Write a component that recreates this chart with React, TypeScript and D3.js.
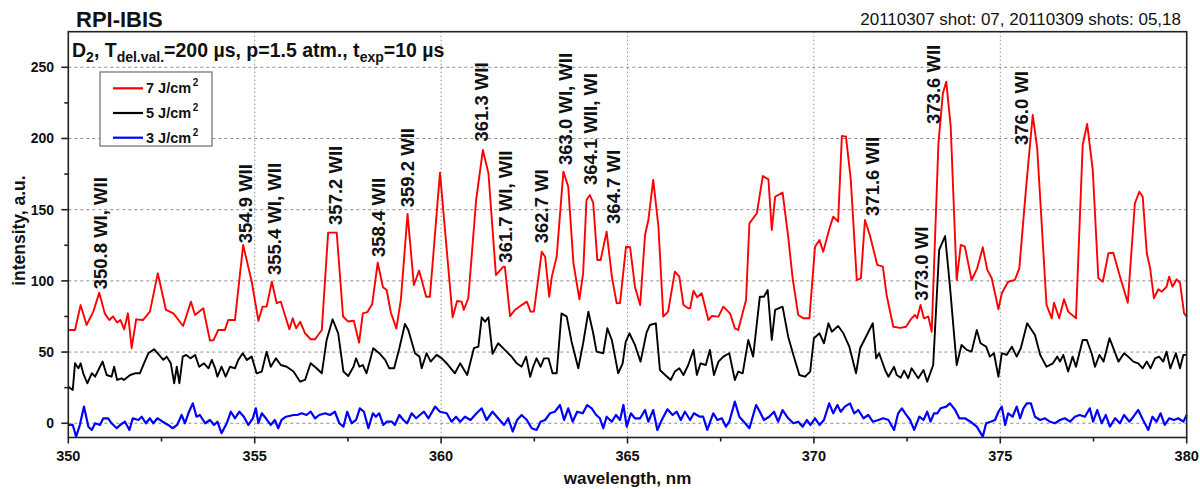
import React from "react";
import * as d3 from "d3";

// wavelength (nm), intensity (a.u.)
const series7: [number, number][] = [
  [350.0, 65.5], [350.18, 65.5], [350.33, 83], [350.49, 69], [350.67, 78.4], [350.83, 91.7], [350.98, 77], [351.1, 72.5],
  [351.2, 75], [351.31, 70.7], [351.4, 72.5], [351.5, 66], [351.6, 77.2], [351.7, 52.7], [351.82, 73], [352.0, 72.5],
  [352.19, 78.4], [352.4, 105.3], [352.62, 79.6], [352.82, 77.2], [353.08, 68.3], [353.29, 85.4], [353.4, 76], [353.62, 80.8],
  [353.8, 58], [353.9, 58.5], [354.02, 65.5], [354.2, 65.5], [354.29, 72.5], [354.47, 72.5], [354.69, 125.2], [354.92, 99.4],
  [355.1, 72], [355.21, 81.9], [355.32, 81.9], [355.46, 99.4], [355.59, 84.3], [355.7, 85.4], [355.93, 66], [356.02, 73.7],
  [356.11, 66.7], [356.22, 71.3], [356.35, 63.2], [356.5, 59], [356.62, 59], [356.8, 65.5], [356.97, 133.9], [357.2, 133.9],
  [357.37, 75], [357.5, 71.5], [357.66, 72], [357.8, 56.6], [357.9, 77.2], [358.02, 78], [358.15, 83.5], [358.3, 112.8],
  [358.44, 95.5], [358.54, 93.6], [358.65, 78], [358.8, 66.5], [358.92, 86.6], [359.1, 147], [359.27, 97.1], [359.41, 107.2],
  [359.6, 88.9], [359.7, 88.9], [359.97, 176], [360.31, 74.4], [360.43, 85.9], [360.55, 85.4], [360.61, 79.6], [360.73, 87.8],
  [360.94, 156.8], [361.12, 191.9], [361.27, 175.6], [361.47, 104.1], [361.67, 110], [361.71, 110], [361.85, 75.3], [361.98, 79.6],
  [362.16, 83], [362.3, 85.4], [362.4, 78.4], [362.49, 78.4], [362.7, 120.5], [362.79, 117], [362.9, 88.9], [362.97, 103],
  [363.1, 117], [363.28, 176.7], [363.41, 166.2], [363.55, 112.4], [363.71, 87.1], [363.81, 105.3], [363.9, 156.8], [363.99, 160.3],
  [364.08, 154.9], [364.19, 114.7], [364.28, 114.7], [364.44, 134.6], [364.58, 103], [364.71, 84.3], [364.8, 84.5], [364.96, 124],
  [365.07, 123.6], [365.2, 95.9], [365.34, 83], [365.47, 132.2], [365.56, 142.8], [365.69, 170.9], [365.83, 138], [365.96, 74.9],
  [366.09, 78.4], [366.27, 106.5], [366.39, 103], [366.5, 83.1], [366.63, 80.8], [366.68, 80.8], [366.77, 93.1], [366.87, 88.5],
  [366.99, 91.3], [367.17, 72.5], [367.26, 75.3], [367.44, 74.9], [367.57, 81.9], [367.75, 77.2], [367.88, 66.7], [367.97, 65.5],
  [368.18, 86.6], [368.27, 140.4], [368.47, 147.5], [368.63, 173.7], [368.78, 171.3], [368.87, 135.7], [368.96, 159.1], [369.16, 162],
  [369.31, 131], [369.43, 101.8], [369.58, 76], [369.72, 73.7], [369.88, 73.7], [370.03, 124], [370.15, 128.7], [370.25, 120.5],
  [370.43, 138], [370.52, 145.1], [370.65, 141.6], [370.75, 201.8], [370.86, 201.3], [370.99, 170.9], [371.15, 100.6], [371.26, 101.8],
  [371.37, 142.8], [371.5, 132.2], [371.7, 111.2], [371.85, 110], [371.95, 90.1], [372.13, 67.8], [372.31, 67], [372.47, 67.8],
  [372.62, 73.7], [372.71, 76], [372.77, 73.7], [372.86, 83.1], [372.95, 73.7], [373.07, 74.9], [373.16, 64.3], [373.34, 196.6],
  [373.46, 231.7], [373.55, 239.9], [373.67, 208.3], [373.83, 100.6], [373.94, 125.2], [374.05, 124], [374.23, 100.6], [374.38, 108.8],
  [374.53, 123.6], [374.65, 107.7], [374.77, 101.8], [374.95, 80], [375.04, 91.3], [375.21, 99.4], [375.39, 100.6], [375.51, 108.8],
  [375.69, 165], [375.87, 216.5], [375.99, 193.1], [376.24, 83.1], [376.38, 73.7], [376.44, 84.7], [376.58, 73.7], [376.71, 87.1],
  [376.82, 78.4], [377.03, 73.7], [377.21, 195.4], [377.33, 210.2], [377.48, 177.9], [377.63, 101.8], [377.75, 99.4], [377.9, 119.4],
  [378.03, 119.8], [378.21, 103], [378.42, 84.7], [378.61, 154.5], [378.73, 162.6], [378.82, 159.1], [378.93, 119.4], [379.02, 108.8],
  [379.12, 87.8], [379.24, 94.1], [379.33, 92.4], [379.46, 95.9], [379.53, 103], [379.62, 95.9], [379.73, 101.1], [379.82, 98.7],
  [379.93, 77.2], [380.0, 74.9],
];

const series5: [number, number][] = [
  [350.0, 25.7], [350.12, 23.4], [350.18, 42.1], [350.27, 38.6], [350.33, 42.1], [350.4, 35.1], [350.51, 28.1], [350.63, 35.1],
  [350.72, 32.7], [350.85, 39.7], [350.92, 43.3], [351.03, 33.9], [351.16, 32.7], [351.23, 39.7], [351.31, 30.4], [351.43, 31.6],
  [351.49, 30.4], [351.66, 33.9], [351.79, 35.1], [351.92, 35.1], [352.03, 42.1], [352.15, 49.2], [352.3, 52], [352.41, 48.7],
  [352.55, 44.5], [352.64, 46.8], [352.75, 42.1], [352.84, 28.1], [352.91, 39.7], [352.98, 28.1], [353.07, 46.8], [353.16, 48],
  [353.28, 45.6], [353.4, 48], [353.51, 39.7], [353.64, 42.1], [353.76, 38.6], [353.85, 44.5], [353.94, 38.6], [354.0, 32.7],
  [354.11, 39.7], [354.22, 32.7], [354.34, 39.7], [354.47, 38.6], [354.56, 44.5], [354.68, 49.2], [354.79, 44.5], [354.92, 46.8],
  [355.05, 35.1], [355.19, 36.3], [355.32, 50.3], [355.43, 39.7], [355.57, 45.6], [355.7, 40.9], [355.86, 39.7], [356.04, 36.3],
  [356.22, 29.2], [356.35, 30.4], [356.5, 42.1], [356.66, 38.6], [356.8, 35.1], [356.93, 58.5], [357.09, 73], [357.24, 63.2],
  [357.38, 36.3], [357.51, 33.2], [357.65, 39.7], [357.72, 45.6], [357.81, 39.7], [357.9, 40.9], [358.0, 35.1], [358.18, 52.7],
  [358.34, 49.2], [358.5, 44.5], [358.61, 38.6], [358.74, 38.6], [358.88, 52.7], [359.03, 69.7], [359.12, 65.5], [359.3, 49.2],
  [359.42, 46.8], [359.48, 38.6], [359.61, 49.2], [359.72, 43.3], [359.88, 48], [360.02, 45.6], [360.19, 40.9], [360.37, 35.1],
  [360.51, 42.1], [360.7, 33.9], [360.88, 52.7], [361.0, 53.8], [361.09, 74.4], [361.18, 71.3], [361.27, 74.4], [361.38, 48.7],
  [361.53, 56.2], [361.71, 51.5], [361.89, 46.8], [362.03, 42.1], [362.16, 39.7], [362.28, 46.8], [362.39, 32.7], [362.47, 39.7],
  [362.56, 45.6], [362.67, 39.7], [362.76, 45.6], [362.88, 45.6], [362.99, 35.1], [363.1, 35.1], [363.23, 77.2], [363.37, 74.9],
  [363.5, 57.3], [363.68, 38.6], [363.81, 56.2], [363.95, 78.4], [364.08, 63.2], [364.17, 50.3], [364.35, 49.2], [364.46, 66.7],
  [364.58, 58.5], [364.75, 35.1], [364.87, 42.1], [364.95, 57], [365.05, 63.2], [365.2, 55], [365.35, 43.3], [365.51, 63.6],
  [365.6, 69], [365.76, 70.2], [365.87, 37.4], [366.01, 33.9], [366.16, 30.4], [366.27, 36.3], [366.39, 38.6], [366.5, 33.9],
  [366.63, 40.9], [366.77, 51.5], [366.86, 33.9], [366.96, 42.1], [367.1, 40.9], [367.21, 51.5], [367.32, 33.9], [367.44, 43.3],
  [367.57, 46.8], [367.73, 49.2], [367.88, 30.4], [367.97, 36.3], [368.09, 35.1], [368.24, 58.5], [368.37, 46.8], [368.55, 88.9],
  [368.66, 88.9], [368.76, 93.6], [368.87, 58.5], [368.96, 79.6], [369.16, 81.9], [369.31, 60.8], [369.45, 48], [369.61, 33.9],
  [369.76, 32.7], [369.9, 36.3], [370.0, 59.7], [370.15, 63.2], [370.27, 56.2], [370.39, 70.2], [370.48, 64.3], [370.65, 68.3],
  [370.79, 63.2], [370.95, 53.8], [371.13, 35.1], [371.24, 52.7], [371.42, 62], [371.58, 70.2], [371.67, 45.6], [371.75, 49.2],
  [371.91, 37.4], [372.0, 32.7], [372.15, 39.7], [372.22, 33.9], [372.33, 32], [372.42, 37], [372.53, 31.6], [372.62, 38.6],
  [372.71, 35.1], [372.8, 31.6], [372.94, 37.4], [373.04, 29.2], [373.2, 40.9], [373.36, 121.7], [373.52, 131.5], [373.65, 95.9],
  [373.83, 40.9], [373.96, 55], [374.1, 51.5], [374.23, 50.3], [374.37, 65.5], [374.47, 56.2], [374.62, 53.8], [374.72, 46.8],
  [374.83, 49.2], [374.95, 32.7], [375.04, 49.2], [375.17, 48], [375.31, 53.8], [375.44, 46.8], [375.55, 52.7], [375.72, 70.2],
  [375.93, 62], [376.07, 48], [376.24, 39.7], [376.41, 42.1], [376.53, 46.8], [376.6, 43.3], [376.69, 48], [376.82, 36.3],
  [376.94, 46.8], [377.03, 39.7], [377.21, 58.5], [377.32, 58.5], [377.45, 49.2], [377.54, 39.7], [377.66, 48], [377.77, 43.3],
  [377.93, 59.7], [378.05, 51.5], [378.17, 43.3], [378.32, 49.2], [378.43, 46.8], [378.57, 43.3], [378.7, 42.1], [378.82, 38.6],
  [378.93, 43.3], [379.03, 38.6], [379.15, 45.6], [379.26, 46.8], [379.37, 43.3], [379.46, 50.3], [379.56, 38.6], [379.71, 49.2],
  [379.82, 38.6], [379.91, 48], [380.0, 48],
];

const series3: [number, number][] = [
  [350.0, -1.2], [350.12, -1.2], [350.21, -9.4], [350.31, -1.2], [350.42, 11.7], [350.54, -2.4], [350.63, -4.7], [350.72, 0],
  [350.85, -1.2], [350.94, 3.5], [351.07, 3.5], [351.16, 0], [351.3, -3.5], [351.39, -1.2], [351.52, 1.1], [351.64, -4.7],
  [351.73, 3.5], [351.88, 2.3], [351.97, 4.6], [352.08, 0], [352.19, 3.5], [352.28, 0], [352.39, 3.5], [352.53, 1.1],
  [352.68, -1.2], [352.8, -3.5], [352.92, -1.2], [353.04, 5.8], [353.13, 0], [353.22, 7], [353.34, 14], [353.44, 4.6],
  [353.53, 5.8], [353.67, 0], [353.8, 2.3], [353.91, -1.2], [354.0, 1.1], [354.11, -7], [354.25, 0], [354.36, 8.1],
  [354.47, 3.5], [354.59, 8.1], [354.71, 4.6], [354.83, -1.2], [354.95, 3.5], [355.03, 10.5], [355.1, 0], [355.19, 7],
  [355.3, 3.5], [355.43, -1.2], [355.54, 2.3], [355.63, -3.5], [355.72, 2.3], [355.84, 4.6], [356.04, 5.8], [356.14, 5.8],
  [356.26, 7], [356.39, 5.8], [356.5, 8.1], [356.62, 3.5], [356.73, 5.8], [356.89, 7], [357.02, 5.8], [357.15, 8.1],
  [357.27, 0], [357.38, -2.4], [357.48, 8.1], [357.6, 0], [357.72, 2.3], [357.82, 10.5], [357.93, 8.1], [358.05, -3.5],
  [358.17, 7], [358.25, 4.6], [358.34, 7], [358.45, -1.2], [358.54, 1.1], [358.68, 1.1], [358.76, -1.2], [358.88, 5.8],
  [358.99, 2.3], [359.09, 0], [359.21, 7], [359.33, 3.5], [359.43, 5.8], [359.54, 8.1], [359.66, 3.5], [359.84, 11.7],
  [359.97, 8.1], [360.15, 7], [360.28, 1.1], [360.4, 4.6], [360.51, 1.1], [360.64, 4.6], [360.79, 2.3], [360.95, 7],
  [361.09, 10.5], [361.22, 2.3], [361.38, 8.1], [361.53, 3.5], [361.69, -1.2], [361.8, 3.5], [361.92, -5.8], [362.04, 2.3],
  [362.16, 5.8], [362.3, 2.3], [362.43, -3.5], [362.56, -4.7], [362.67, 1.1], [362.79, 2.3], [362.92, 7], [363.05, 8.1],
  [363.19, 12.8], [363.3, 2.3], [363.41, 10.5], [363.53, 1.1], [363.65, 8.1], [363.8, 7], [363.92, 12.8], [364.04, 10.5],
  [364.16, 5.8], [364.26, 3.5], [364.35, -3.5], [364.44, 4.6], [364.58, 1.1], [364.69, 5.8], [364.8, 2.3], [364.89, 12.8],
  [364.98, -2.4], [365.09, 7], [365.2, 3.5], [365.34, 3.5], [365.47, 9.3], [365.56, 1.1], [365.69, 9.3], [365.8, -4.7],
  [365.92, 2.3], [366.07, 9.8], [366.21, 5.8], [366.32, 8.1], [366.43, 2.3], [366.54, 8.1], [366.68, 2.3], [366.78, 7],
  [366.94, 4.6], [367.03, 4.6], [367.14, -4.7], [367.3, 7], [367.41, 2.3], [367.53, 3.5], [367.64, -2.4], [367.73, 1.1],
  [367.88, 15.2], [368.0, 4.6], [368.12, 1.1], [368.27, -3.5], [368.45, 12.8], [368.55, 8.1], [368.66, 2.3], [368.8, 4.6],
  [368.93, 8.1], [369.04, 1.1], [369.16, 9.3], [369.31, 3.5], [369.45, 0], [369.58, 1.1], [369.7, -2.4], [369.81, 2.3],
  [369.91, -1.2], [370.03, 3.5], [370.15, -1.2], [370.27, 2.3], [370.41, 14], [370.52, 7], [370.63, 12.8], [370.72, 8.1],
  [370.83, 11.7], [370.97, 14], [371.08, 7], [371.19, 9.3], [371.33, 3.5], [371.46, 5.8], [371.58, 1.1], [371.73, 2.3],
  [371.86, 3.5], [372.0, 2.3], [372.15, -4.7], [372.26, 7], [372.36, 10.5], [372.45, 7], [372.58, 2.3], [372.69, -4.7],
  [372.83, 4.6], [372.94, 2.3], [373.04, 8.1], [373.13, 1.1], [373.22, 7], [373.31, 7], [373.4, 10.5], [373.55, 11.7],
  [373.65, 14], [373.79, 9.3], [373.9, 3.5], [374.05, 3.5], [374.2, 1.1], [374.37, -2.4], [374.53, -9.4], [374.62, 0],
  [374.74, 1.1], [374.86, 2.3], [374.95, 8.1], [375.04, 11.7], [375.13, -1.2], [375.21, 7], [375.33, 4.6], [375.44, 11.7],
  [375.53, 3.5], [375.62, 10.5], [375.71, 14], [375.82, 14], [375.93, 4.6], [376.07, 2.3], [376.2, 3.5], [376.33, 1.1],
  [376.47, 0], [376.6, 2.3], [376.73, 3.5], [376.87, 1.1], [377.0, 4.6], [377.13, 5.8], [377.27, 4.6], [377.4, 10.5],
  [377.49, 1.1], [377.6, 9.3], [377.72, 0], [377.83, 5.8], [377.94, -2.4], [378.08, 3.5], [378.21, 0], [378.32, 5.8],
  [378.46, 1.1], [378.57, 4.6], [378.7, 9.3], [378.83, 2.3], [378.97, -4.7], [379.08, 4.6], [379.19, 1.1], [379.3, 7],
  [379.41, -1.2], [379.53, 3.5], [379.66, 2.3], [379.77, 3.5], [379.91, 1.1], [380.0, 5.8],
];

const seriesNames = ["7 J/cm", "5 J/cm", "3 J/cm"];
const seriesColors = ["#ff0000", "#000000", "#0000ff"];

// line identifications: label, wavelength of the label column, intensity at label foot
const lineLabels = [
  "350.8 WI, WII", "354.9 WII", "355.4 WI, WII", "357.2 WII", "358.4 WII", "359.2 WII", "361.3 WII", "361.7 WI, WII",
  "362.7 WI", "363.0 WI, WII", "364.1 WII, WI", "364.7 WI", "371.6 WII", "373.0 WI", "373.6 WII", "376.0 WI",
];
const lineLabelWl = [
  350.85, 354.75, 355.52, 357.17, 358.31, 359.1, 361.08, 361.73,
  362.7, 363.34, 363.99, 364.63, 371.56, 372.88, 373.2, 375.57,
];
const lineLabelVal = [
  94.1, 126.4, 104.1, 139.3, 116.8, 151.7, 197.8, 112.8,
  126.4, 181.4, 167.3, 140, 145.6, 86.1, 210.2, 195.4,
];

const xTicks = [350, 355, 360, 365, 370, 375, 380];
const xMinorTicks = [352.5, 357.5, 362.5, 367.5, 372.5, 377.5];
const yTicks = [0, 50, 100, 150, 200, 250];
const yMinorTicks = [25, 75, 125, 175, 225];

const FONT = "'Liberation Sans', Arial, Helvetica, sans-serif";

export default function App() {
  const left = 68.3, right = 1186.7, top = 31.7, bottom = 437.5;
  const x = d3.scaleLinear().domain([350, 380]).range([left, right]);
  const y = d3.scaleLinear().domain([-10, 275]).range([bottom, top]);
  const line = d3
    .line<[number, number]>()
    .x((d) => x(d[0]))
    .y((d) => y(d[1]));

  const allSeries = [series7, series5, series3];
  const widths = [1.9, 1.9, 2.2];

  return (
    <svg
      width={1200}
      height={489}
      style={{ position: "absolute", left: 0, top: 0, background: "#fff" }}
      fontFamily={FONT}
    >
      <rect x={0} y={0} width={1200} height={489} fill="#fff" />

      {/* grid */}
      {yTicks.map((t) => (
        <line key={"gy" + t} x1={left} x2={right} y1={y(t)} y2={y(t)} stroke="#8c8c8c" strokeWidth={1} strokeDasharray="3,3" />
      ))}
      {xTicks.slice(1, -1).map((t) => (
        <line key={"gx" + t} x1={x(t)} x2={x(t)} y1={top} y2={bottom} stroke="#8c8c8c" strokeWidth={1} strokeDasharray="1.5,2.5" />
      ))}

      {/* series */}
      {allSeries.map((s, i) => (
        <path key={"s" + i} d={line(s) || ""} fill="none" stroke={seriesColors[i]} strokeWidth={widths[i]} strokeLinejoin="round" />
      ))}

      {/* frame */}
      <rect x={left} y={top} width={right - left} height={bottom - top} fill="none" stroke="#222" strokeWidth={1.6} />

      {/* x ticks */}
      {xTicks.map((t) => (
        <g key={"xt" + t}>
          <line x1={x(t)} x2={x(t)} y1={bottom} y2={bottom + 6} stroke="#222" strokeWidth={1.6} />
          <text x={x(t)} y={461} textAnchor="middle" fontSize={14.5} fontWeight="bold" fill="#111">
            {t}
          </text>
        </g>
      ))}
      {xMinorTicks.map((t) => (
        <line key={"xm" + t} x1={x(t)} x2={x(t)} y1={bottom} y2={bottom + 4} stroke="#222" strokeWidth={1.6} />
      ))}

      {/* y ticks */}
      {yTicks.map((t) => (
        <g key={"yt" + t}>
          <line x1={left - 7} x2={left} y1={y(t)} y2={y(t)} stroke="#222" strokeWidth={1.6} />
          <text x={54} y={y(t) + 5} textAnchor="end" fontSize={14} fontWeight="bold" fill="#111">
            {t}
          </text>
        </g>
      ))}
      {yMinorTicks.map((t) => (
        <line key={"ym" + t} x1={left - 4} x2={left} y1={y(t)} y2={y(t)} stroke="#222" strokeWidth={1.6} />
      ))}

      {/* axis titles */}
      <text
        transform={`translate(25,${(top + bottom) / 2 - 4}) rotate(-90)`}
        textAnchor="middle"
        fontSize={17.5}
        fontWeight="bold"
        fill="#111"
      >
        intensity, a.u.
      </text>
      <text x={(left + right) / 2} y={484} textAnchor="middle" fontSize={17} fontWeight="bold" fill="#111">
        wavelength, nm
      </text>

      {/* headers */}
      <text x={76} y={27} fontSize={22} fontWeight="bold" fill="#111">
        RPI-IBIS
      </text>
      <text x={1181} y={25} textAnchor="end" fontSize={17} fill="#111">
        20110307 shot: 07, 20110309 shots: 05,18
      </text>

      {/* conditions */}
      <text x={72} y={57} fontSize={19.5} fontWeight="bold" fill="#111">
        D<tspan fontSize={14} dy={5}>2</tspan>
        <tspan dy={-5}>, T</tspan>
        <tspan fontSize={14} dy={5}>del.val.</tspan>
        <tspan dy={-5}>=200 µs, p=1.5 atm., t</tspan>
        <tspan fontSize={14} dy={5}>exp</tspan>
        <tspan dy={-5}>=10 µs</tspan>
      </text>

      {/* legend */}
      <rect x={100} y={72} width={112} height={74} fill="#fff" stroke="#777" strokeWidth={1.3} />
      {seriesNames.map((n, i) => (
        <g key={"lg" + i} transform={`translate(0,${88.3 + i * 24.7})`}>
          <line x1={113} x2={143} y1={0} y2={0} stroke={seriesColors[i]} strokeWidth={2.2} />
          <text x={146} y={5} fontSize={14.5} fontWeight="bold" fill="#111">
            {n}
            <tspan fontSize={10} dy={-7} dx={1.5}>2</tspan>
          </text>
        </g>
      ))}

      {/* line identifications */}
      {lineLabels.map((lbl, i) => (
        <text
          key={"lbl" + i}
          transform={`translate(${x(lineLabelWl[i]) + 6.7},${y(lineLabelVal[i])}) rotate(-90)`}
          fontSize={18.5}
          fontWeight="bold"
          fill="#111"
        >
          {lbl}
        </text>
      ))}
    </svg>
  );
}
